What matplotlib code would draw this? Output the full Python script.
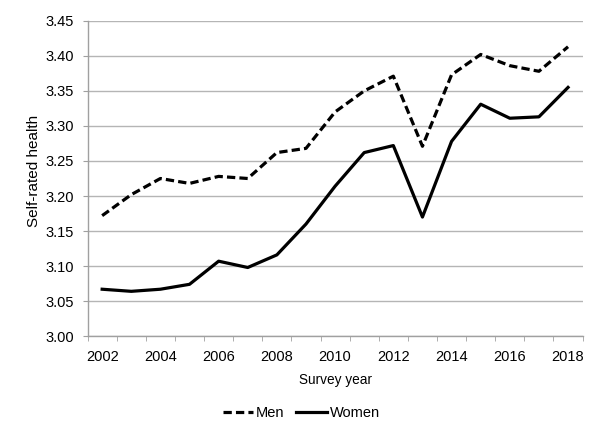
import numpy as np
import matplotlib
matplotlib.use('Agg')
import matplotlib.pyplot as plt
from matplotlib.ticker import FixedLocator

plt.rcParams['font.family'] = ['Liberation Sans', 'DejaVu Sans']

years = list(range(2002, 2019))
men = [3.172, 3.202, 3.225, 3.218, 3.228, 3.225, 3.262, 3.268, 3.320,
       3.350, 3.371, 3.271, 3.373, 3.402, 3.386, 3.378, 3.413]
women = [3.067, 3.064, 3.067, 3.074, 3.107, 3.098, 3.116, 3.160, 3.214,
         3.262, 3.272, 3.170, 3.278, 3.331, 3.311, 3.313, 3.355]
year_labels = [str(y) if y % 2 == 0 else '' for y in years]

fig = plt.figure(figsize=(6, 4.25), dpi=100)
ax = fig.add_axes([0.146, 0.209, 0.825, 0.742])

x = np.arange(len(years))
ax.plot(x, men, color='black', lw=2.3, linestyle=(0, (2.6, 1.3)), label='Men')
ax.plot(x, women, color='black', lw=2.3, label='Women')

ax.set_xlim(-0.5, len(years) - 0.5)
ax.set_ylim(3.0, 3.45)
yt = np.arange(3.0, 3.451, 0.05)
ax.set_yticks(yt)
ax.set_yticklabels(['%.2f' % v for v in yt], fontsize=10.5)
ax.set_xticks(x)
ax.set_xticklabels(year_labels, fontsize=10.5)
ax.xaxis.set_minor_locator(FixedLocator(np.arange(-0.5, len(years), 1.0)))
ax.tick_params(axis='x', which='major', length=0, pad=10)
ax.tick_params(axis='x', which='minor', length=3.6, color='#a0a0a0', direction='out')
ax.tick_params(axis='y', length=3.6, color='#a0a0a0', pad=6.3)

ax.grid(axis='y', color='#b5b5b5', lw=1.0)
ax.set_axisbelow(True)
for s in ['top', 'right']:
    ax.spines[s].set_visible(False)
for s in ['left', 'bottom']:
    ax.spines[s].set_color('#a0a0a0')
    ax.spines[s].set_linewidth(1.0)

ax.set_xlabel('Survey year', fontsize=9.8, labelpad=6.5)
ax.set_ylabel('Self-rated health', fontsize=11)
ax.yaxis.set_label_coords(-0.095, 0.524)

fig.legend(loc='center', bbox_to_anchor=(0.502, 0.028), ncol=2, frameon=False,
           fontsize=10.5, handlelength=2.1, handletextpad=0.2, columnspacing=0.8)

fig.savefig('out.png', dpi=100)
